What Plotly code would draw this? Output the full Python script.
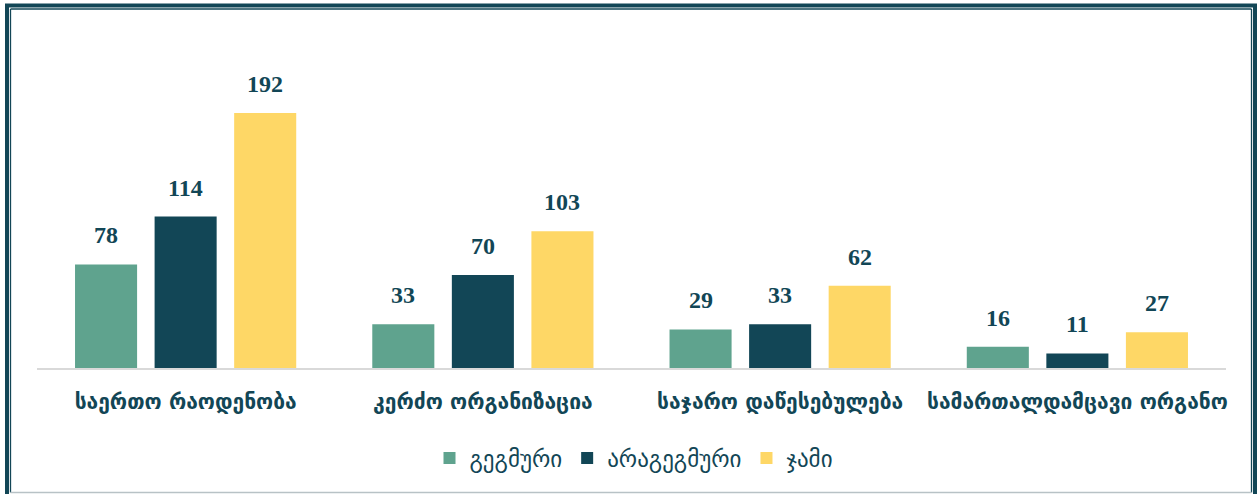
import plotly.graph_objects as go

categories = ["საერთო რაოდენობა", "კერძო ორგანიზაცია", "საჯარო დაწესებულება", "სამართალდამცავი ორგანო"]
series_names = ["გეგმური", "არაგეგმური", "ჯამი"]
planned = [78, 33, 29, 16]
unplanned = [114, 70, 33, 11]
total = [192, 103, 62, 27]
series_values = [planned, unplanned, total]
colors = ["#5fa38e", "#124656", "#fed766"]

W, H = 1257, 494
L, R, T, B = 37, 31, 20, 126
PW, PH = W - L - R, H - T - B
TEXT = "#124656"

def px_x(px):
    return (px - L) / PW

def px_y(py):
    return 1 - (py - T) / PH

fig = go.Figure()
for name, vals, col in zip(series_names, series_values, colors):
    fig.add_trace(go.Bar(x=categories, y=vals, name=name, marker=dict(color=col, line=dict(width=0))))

slot = PW / len(categories) * (1 - 0.197) / 3
annotations = []
for i, vals in enumerate(series_values):
    for c, v in zip(categories, vals):
        annotations.append(dict(
            x=c, y=v, xref="x", yref="y", text=f"<b>{v}</b>", showarrow=False,
            yanchor="bottom", yshift=14, xshift=(i - 1) * slot,
            font=dict(family="Liberation Serif, DejaVu Serif, serif", size=24, color=TEXT)))

shapes = [
    dict(type="rect", xref="paper", yref="paper", x0=px_x(7), x1=px_x(1255), y0=px_y(520), y1=px_y(5.5),
         line=dict(color="#124656", width=4), layer="below"),
    dict(type="line", xref="paper", yref="paper", x0=px_x(10.5), x1=px_x(10.5), y0=px_y(492.5), y1=px_y(9),
         line=dict(color="#124656", width=1.3)),
    dict(type="line", xref="paper", yref="paper", x0=px_x(10.5), x1=px_x(1251.5), y0=px_y(9), y1=px_y(9),
         line=dict(color="#124656", width=1.3)),
    dict(type="line", xref="paper", yref="paper", x0=px_x(1251.5), x1=px_x(1251.5), y0=px_y(492.5), y1=px_y(9),
         line=dict(color="#124656", width=1.3)),
    dict(type="line", xref="paper", yref="paper", x0=px_x(10.5), x1=px_x(1251.5), y0=px_y(492.5), y1=px_y(492.5),
         line=dict(color="#b8c2c6", width=1.3)),
]

fig.update_layout(
    width=W, height=H,
    margin=dict(l=L, r=R, t=T, b=B),
    paper_bgcolor="white", plot_bgcolor="white",
    barmode="group", bargap=0.197, bargroupgap=0.22,
    showlegend=True,
    legend=dict(orientation="h", x=px_x(634), xanchor="center", y=px_y(458), yanchor="middle",
                font=dict(family="DejaVu Sans", size=23, color=TEXT), itemwidth=30, traceorder="normal"),
    xaxis=dict(showline=True, linecolor="#d9d9d9", linewidth=2, ticks="", ticklabelstandoff=14,
               tickfont=dict(family="DejaVu Sans", size=21, color=TEXT, weight="bold"), fixedrange=True),
    yaxis=dict(range=[0, PH / (255 / 192)], showgrid=False, showticklabels=False, zeroline=False, fixedrange=True),
    annotations=annotations,
    shapes=shapes,
)

fig.write_html("out.html", config={"displayModeBar": False},
               post_script="document.body.style.margin='0';document.body.style.overflow='hidden';")
